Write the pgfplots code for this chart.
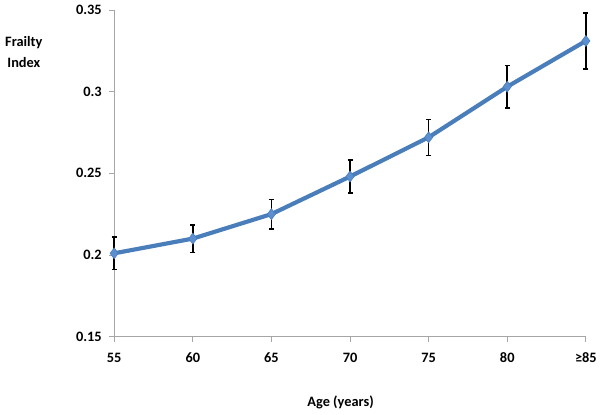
\documentclass[border=0pt]{standalone}
\usepackage{fontspec}
\setmainfont{Carlito}
\usepackage{pgfplots}
\pgfplotsset{compat=1.18}
\definecolor{lineblue}{HTML}{4A7EBB}
\definecolor{markblue}{HTML}{5B8FD0}
\definecolor{axisgray}{HTML}{A6A6A6}
\begin{document}
\begin{tikzpicture}[x=1bp,y=1bp]
\path (0,0) rectangle (600,417);
\begin{axis}[
    at={(115bp,78bp)}, anchor=south west,
    scale only axis, width=475bp, height=329bp,
    xmin=0, xmax=6, ymin=0.15, ymax=0.35,
    axis x line*=bottom, axis y line*=left,
    axis line style={draw=axisgray, line width=0.8bp},
    tick style={draw=axisgray, line width=0.8bp},
    tick align=outside, major tick length=5bp,
    xtick={0,1,2,3,4,5,6},
    xticklabels={55,60,65,70,75,80,≥85},
    ytick={0.15,0.2,0.25,0.3,0.35},
    tick label style={font=\fontsize{14.5}{17}\selectfont\bfseries},
    /pgf/number format/assume math mode=true,
    /pgf/number format/fixed, /pgf/number format/precision=2,
    yticklabel style={xshift=-4bp},
    xticklabel style={yshift=-8bp},
    clip=false,
]
% frailty index by age group, with error bars
\addplot[color=lineblue, line width=4.2bp,
    mark=diamond*, mark size=5.5bp,
    mark options={fill=markblue, draw=lineblue, line width=0.6bp},
    error bars/.cd, y dir=both, y explicit,
    error bar style={black, line width=1.6bp},
    error mark options={black, rotate=90, mark size=2.5bp, line width=1.6bp}]
    coordinates {
(0, 0.201) +- (0, 0.010)
(1, 0.210) +- (0, 0.0085)
(2, 0.225) +- (0, 0.009)
(3, 0.248) +- (0, 0.010)
(4, 0.272) +- (0, 0.011)
(5, 0.303) +- (0, 0.013)
(6, 0.331) +- (0, 0.017)
    };
\end{axis}
\node[font=\fontsize{14.5}{21}\selectfont\bfseries, align=center] at (24,365) {Frailty\\Index};
\node[font=\fontsize{14.5}{17}\selectfont\bfseries] at (343,12) {Age (years)};
\end{tikzpicture}
\end{document}
